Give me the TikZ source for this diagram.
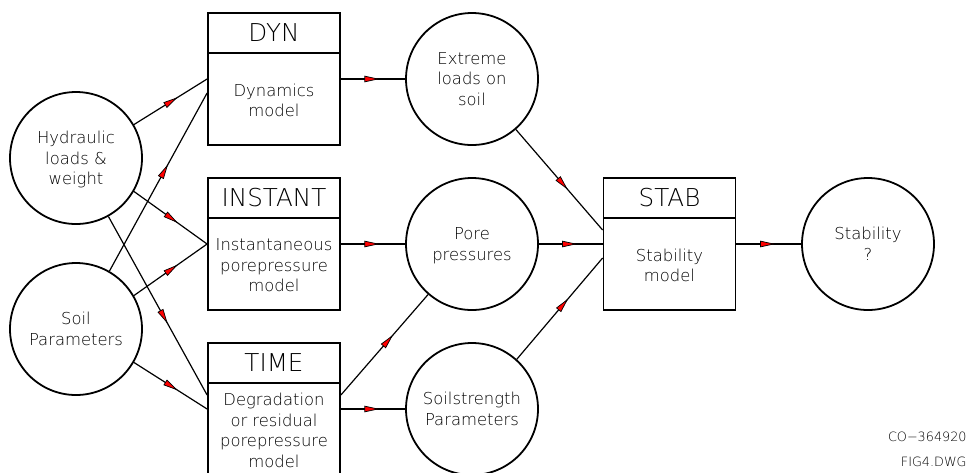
\documentclass[tikz,border=0pt]{standalone}
\usepackage{fontspec}
\setmainfont{DejaVu Sans ExtraLight}
\usepackage{tikz}
\usetikzlibrary{positioning,arrows.meta,calc,decorations.markings}
\newcommand{\boxtitlefont}{\fontsize{12.3}{14}\selectfont}
\newcommand{\flowtextfont}{\fontsize{8.2}{10.3}\selectfont}
\tikzset{
  midtip/.tip={Triangle[length=7.5pt,width=3.2pt,line width=0.35pt,fill=red]},
  datacircle/.style={draw,circle,minimum size=66pt,inner sep=0pt,line width=0.9pt,align=center,font=\flowtextfont,text depth=0pt},
  modelbox/.style={draw,minimum width=66pt,minimum height=66pt,line width=0.9pt},
  modelhead/.style={draw,minimum width=66pt,minimum height=20pt,line width=0.9pt,inner sep=0pt,font=\boxtitlefont},
  modeltext/.style={minimum width=66pt,minimum height=46pt,inner sep=0pt,align=center,font=\flowtextfont},
  flow/.style={line width=0.6pt,postaction={decorate},
    decoration={markings,mark=at position 0.6 with {\arrow{midtip}}}},
}

\begin{document}
\begin{tikzpicture}[x=0.5pt,y=-0.5pt]
\useasboundingbox (0,0) rectangle (969,472);

\node[datacircle] (hyd) at (76,158) {Hydraulic\\loads \&\\weight};
\node[datacircle] (soil) at (76,329) {Soil\\Parameters};

\node[modelbox] (dyn) at (274,79) {};
\node[modelhead,below=0pt of dyn.north] (dynhead) {DYN};
\node[modeltext,below=0pt of dynhead] (dyntext) {Dynamics\\model};

\node[modelbox] (inst) at (274,244) {};
\node[modelhead,below=0pt of inst.north] (insthead) {INSTANT};
\node[modeltext,below=0pt of insthead] (insttext) {Instantaneous\\porepressure\\model};

\node[modelbox] (time) at (274,409) {};
\node[modelhead,below=0pt of time.north] (timehead) {TIME};
\node[modeltext,below=0pt of timehead] (timetext) {Degradation\\or residual\\porepressure\\model};

\node[datacircle] (ext) at (472,79) {Extreme\\loads on\\soil};
\node[datacircle] (pore) at (472,244) {Pore\\pressures};
\node[datacircle] (strength) at (472,409) {Soilstrength\\Parameters};

\node[modelbox] (stab) at (669.5,244) {};
\node[modelhead,below=0pt of stab.north] (stabhead) {STAB};
\node[modeltext,below=0pt of stabhead] (stabtext) {Stability\\model};

\node[datacircle] (result) at (868,244) {Stability\\?};

\node[anchor=east,align=right,inner sep=0pt,font=\fontsize{6.4}{12.5}\selectfont] (dwg) at (967,449)
{CO−364920\\FIG4.DWG};

\draw[flow] (hyd.30) -- (dyn.west);
\draw[flow] (soil.60) -- ($(dyn.west)+(0,14)$);
\draw[flow] (hyd.-30) -- (inst.west);
\draw[flow] (soil.30) -- (inst.west);
\draw[flow] (hyd.-61) -- ($(time.west)+(0,-14)$);
\draw[flow] (soil.-30) -- (time.west);

\draw[flow] (dyn.east) -- (ext.west);
\draw[flow] (inst.east) -- (pore.west);
\draw[flow] (time.east) -- (strength.west);
\draw[flow] ($(time.east)+(0,-14)$) -- (pore.-131);

\draw[flow] (ext.-49) -- ($(stab.west)+(0,-14)$);
\draw[flow] (pore.east) -- (stab.west);
\draw[flow] (strength.48) -- ($(stab.west)+(0,14)$);
\draw[flow] (stab.east) -- (result.west);

\end{tikzpicture}
\end{document}
